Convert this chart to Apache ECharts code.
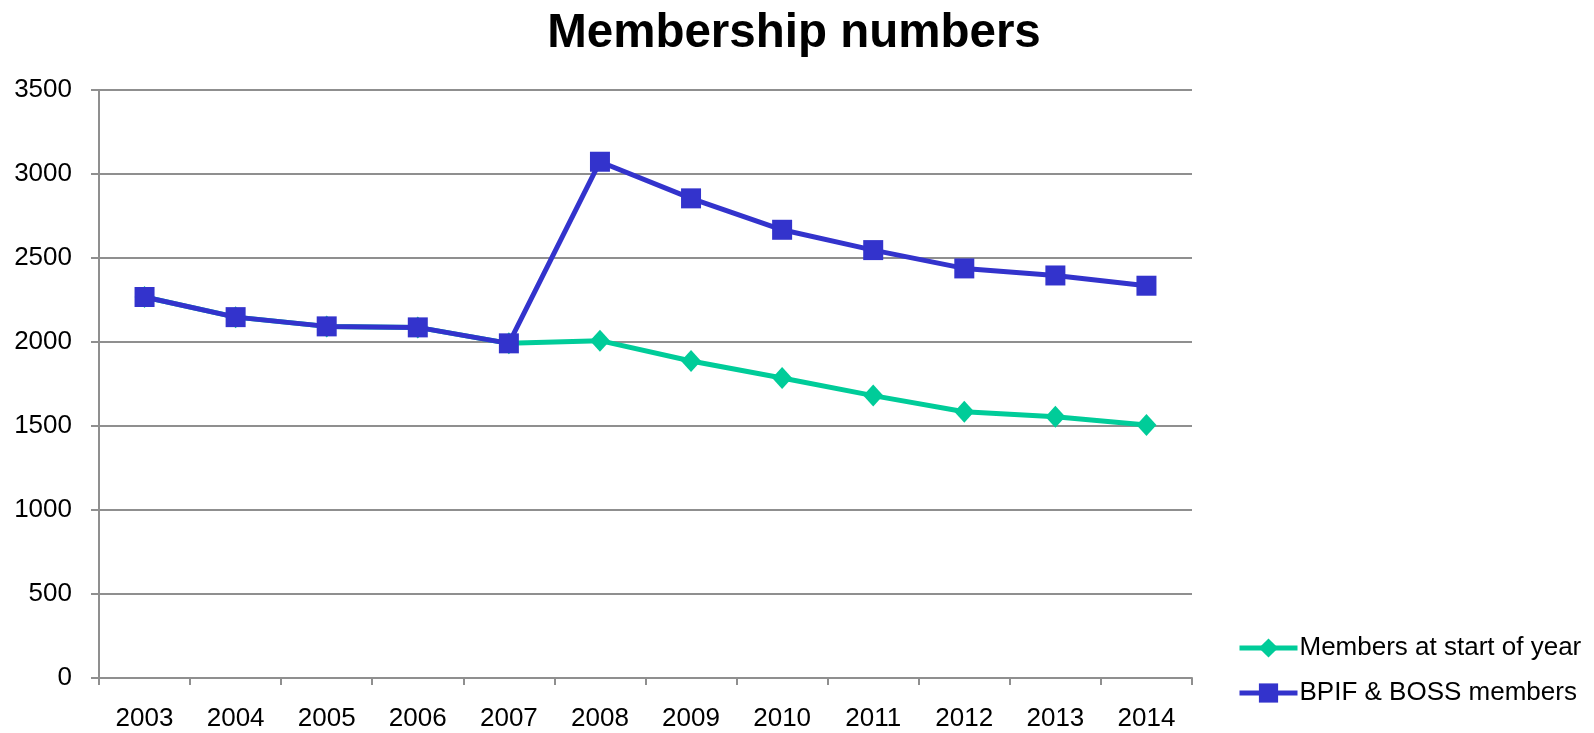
<!DOCTYPE html>
<html>
<head>
<meta charset="utf-8">
<script src="https://cdn.jsdelivr.net/npm/echarts@6/dist/echarts.min.js"></script>
<style>html,body{margin:0;padding:0;background:#fff}#c{width:1594px;height:733px}</style>
</head>
<body>
<div id="c"></div>
<script>
const categories = ['2003','2004','2005','2006','2007','2008','2009','2010','2011','2012','2013','2014'];
const membersStart = [2268, 2148, 2093, 2087, 1992, 2008, 1887, 1786, 1681, 1585, 1555, 1506];
const bpifBoss = [2268, 2148, 2093, 2087, 1992, 3073, 2855, 2668, 2547, 2438, 2396, 2335];
const yTicks = [0, 500, 1000, 1500, 2000, 2500, 3000, 3500];

const FONT = '"Liberation Sans", Arial, sans-serif';
const GRAY = '#8f8f8f';
const chart = echarts.init(document.getElementById('c'), null, {renderer: 'canvas'});
chart.setOption({
  animation: false,
  backgroundColor: '#fff',
  title: {
    text: 'Membership numbers',
    left: 789, top: 5, textAlign: 'center',
    textStyle: {fontFamily: FONT, fontSize: 47.5, fontWeight: 'bold', color: '#000'}
  },
  legend: {
    orient: 'vertical', left: 1232, top: 628,
    itemWidth: 58, itemHeight: 24, itemGap: 15,
    lineStyle: {width: 5},
    textStyle: {fontFamily: FONT, fontSize: 26, color: '#000', lineHeight: 30, padding: [0,0,0,-3]},
    data: ['Members at start of year', 'BPIF & BOSS members']
  },
  grid: {left: 99, right: 402, top: 90, bottom: 55},
  xAxis: {
    type: 'category', data: categories, boundaryGap: true,
    axisLine: {lineStyle: {color: GRAY, width: 2}},
    axisTick: {show: true, length: 7, lineStyle: {color: GRAY, width: 2}},
    axisLabel: {fontFamily: FONT, fontSize: 26, color: '#000', margin: 28}
  },
  yAxis: {
    type: 'value', min: yTicks[0], max: yTicks[yTicks.length-1], interval: 500,
    axisLine: {show: true, lineStyle: {color: GRAY, width: 2}},
    axisTick: {show: true, length: 8, lineStyle: {color: GRAY, width: 2}},
    axisLabel: {fontFamily: FONT, fontSize: 26, color: '#000', margin: 27, padding: [3,0,0,0], formatter: v => String(v)},
    splitLine: {lineStyle: {color: GRAY, width: 2}}
  },
  series: [
    {
      name: 'Members at start of year', type: 'line', data: membersStart,
      symbol: 'diamond', symbolSize: [20, 22], showAllSymbol: true,
      itemStyle: {color: '#00CC99'},
      lineStyle: {color: '#00CC99', width: 5},
      z: 2
    },
    {
      name: 'BPIF & BOSS members', type: 'line', data: bpifBoss,
      symbol: 'rect', symbolSize: 20, showAllSymbol: true,
      itemStyle: {color: '#3333CC'},
      lineStyle: {color: '#3333CC', width: 5},
      z: 3
    }
  ]
});
</script>
</body>
</html>
